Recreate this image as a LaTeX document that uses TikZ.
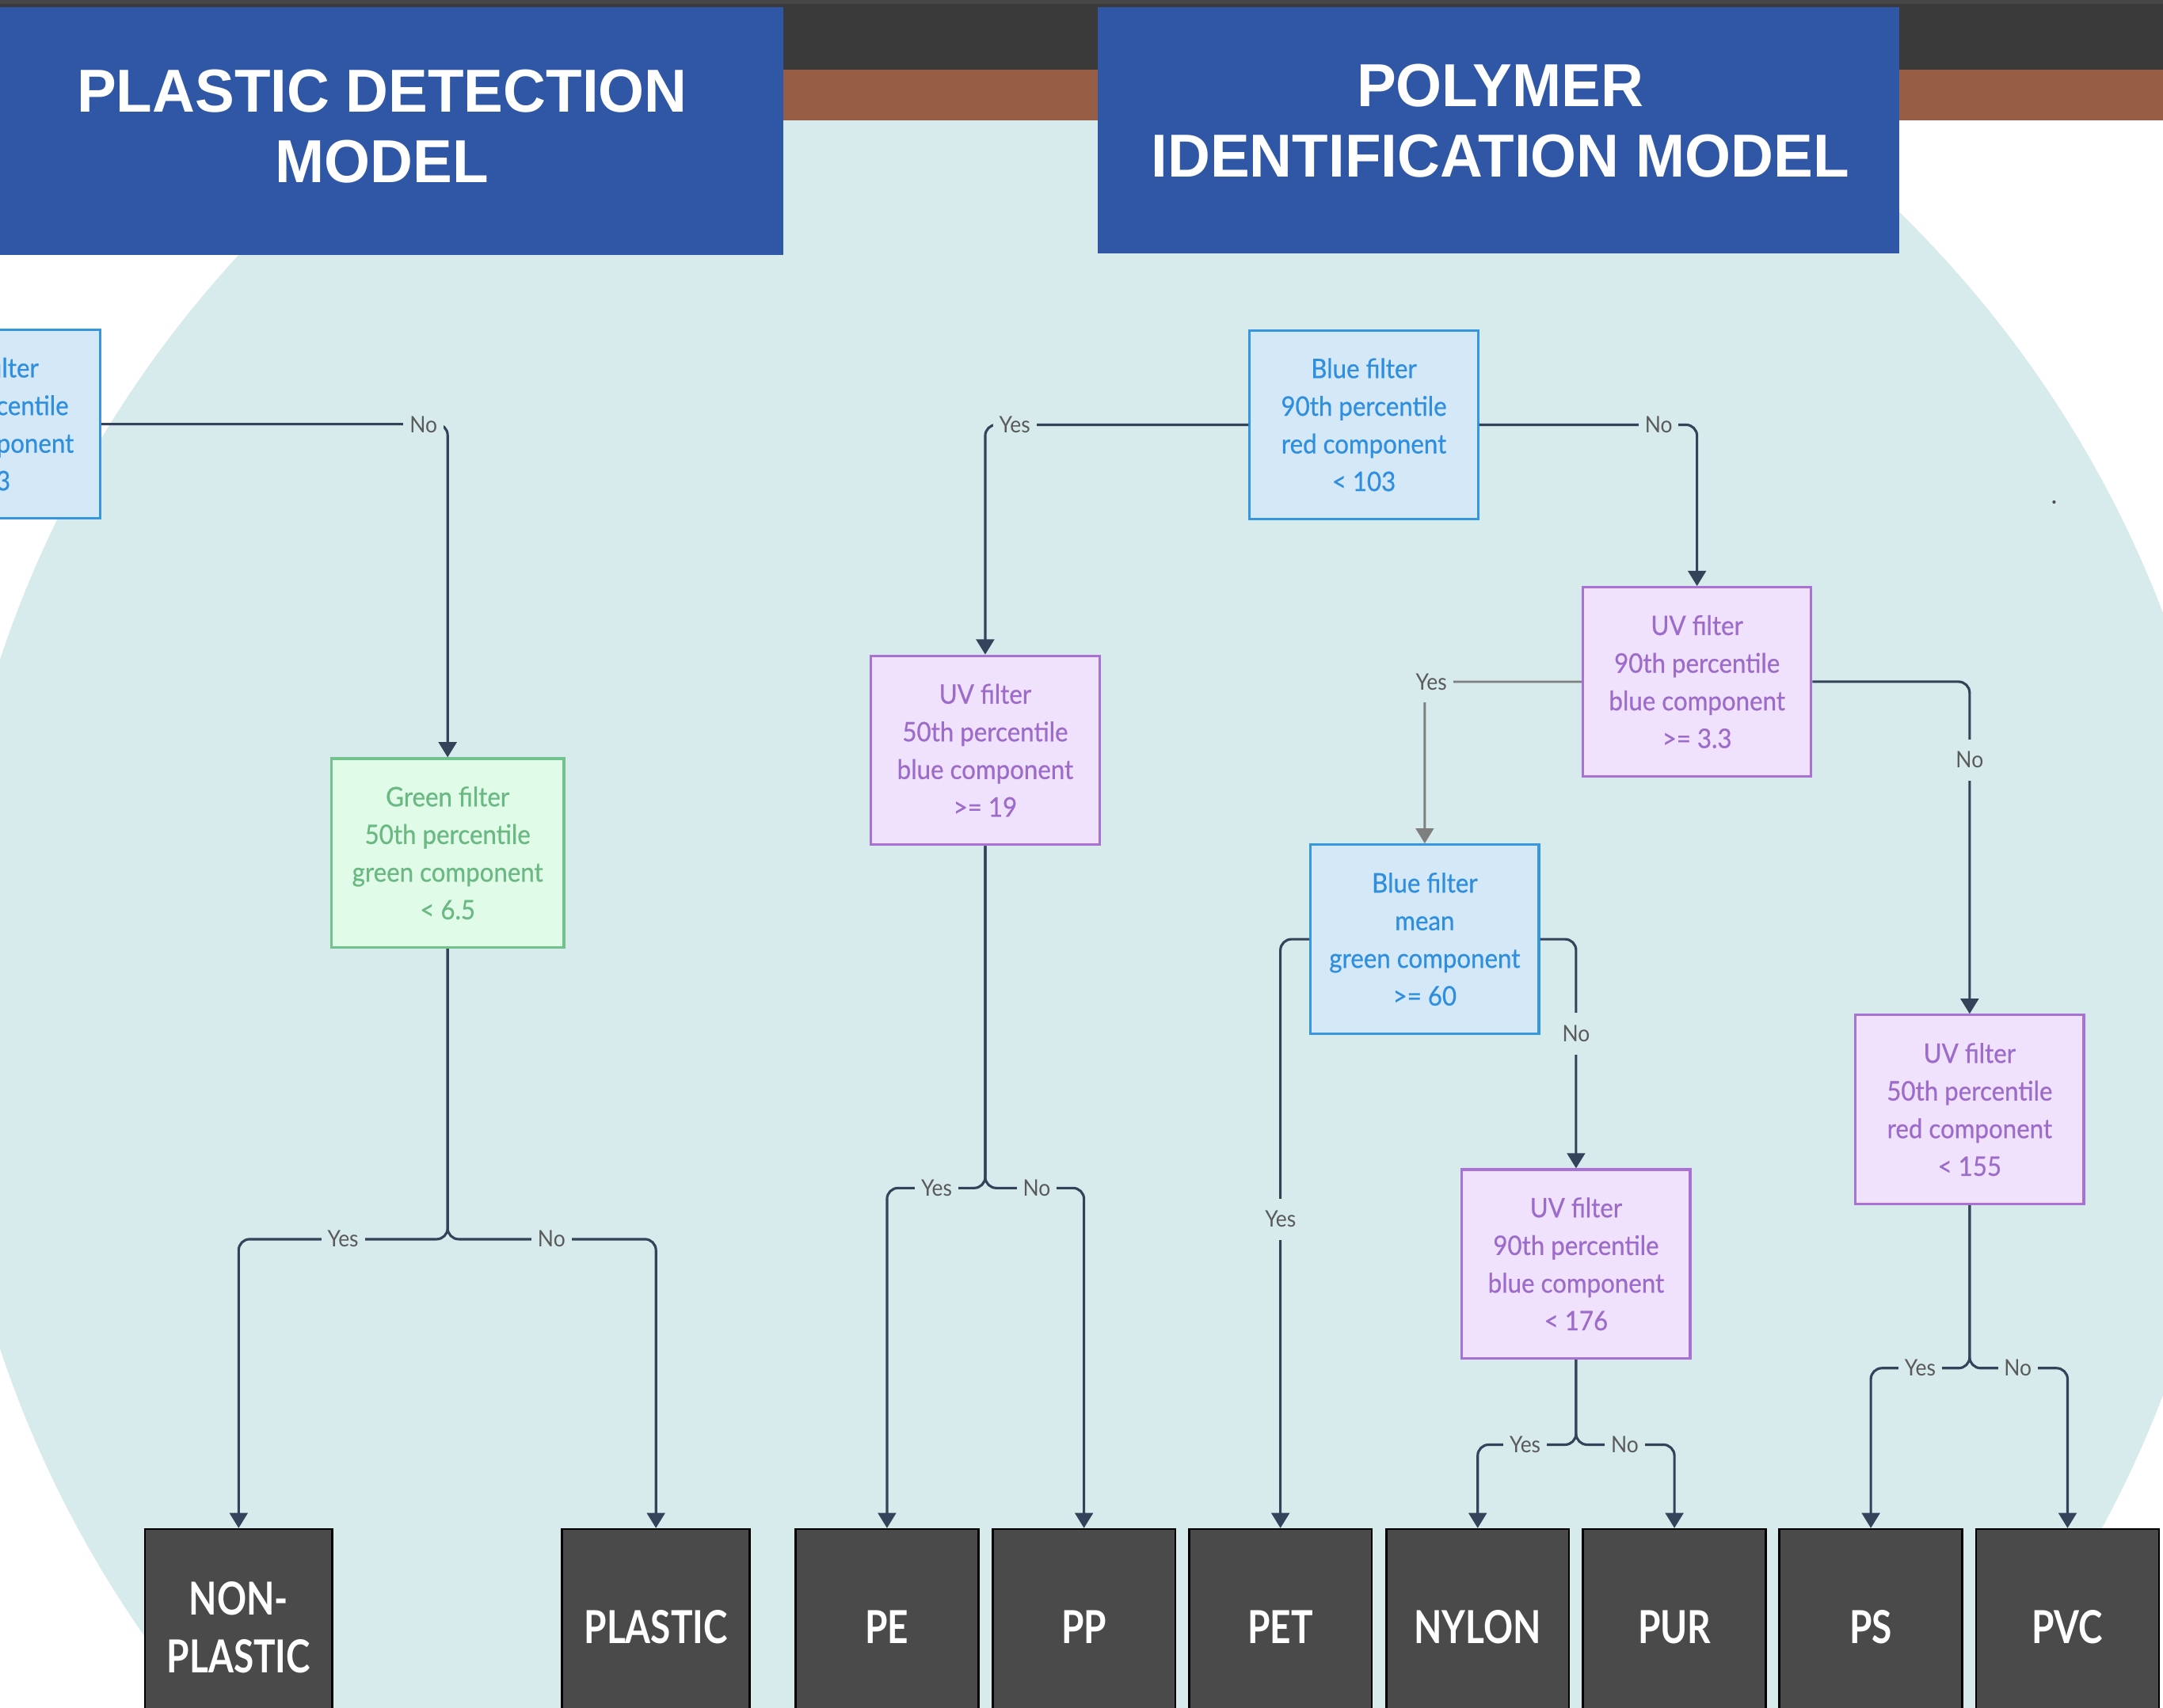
\documentclass[tikz,border=0pt]{standalone}
\usepackage{fontspec}
\setmainfont{Lato}
\newfontfamily\boxfont{Lato}[FakeStretch=0.92, FakeBold=0.6]
\newfontfamily\lblfont{Lato}[FakeStretch=0.92]
\newfontfamily\leaffont{Lato}[FakeStretch=0.80]
\newfontfamily\titlefont{Liberation Sans}[FakeStretch=0.973]
\usetikzlibrary{arrows.meta}
\definecolor{bgc}{HTML}{D7EAEC}
\definecolor{darkbar}{HTML}{3A3A3A}
\definecolor{topstrip}{HTML}{474747}
\definecolor{brown}{HTML}{985D45}
\definecolor{titleblue}{HTML}{3057A5}
\definecolor{bfill}{HTML}{D5E8F8}
\definecolor{bbord}{HTML}{3597E2}
\definecolor{btext}{HTML}{2F8FDF}
\definecolor{pfill}{HTML}{F0E2FC}
\definecolor{pbord}{HTML}{A871D3}
\definecolor{ptext}{HTML}{9D6CCB}
\definecolor{gfill}{HTML}{E0FBE7}
\definecolor{gbord}{HTML}{72C28E}
\definecolor{gtext}{HTML}{6AB882}
\definecolor{leafc}{HTML}{4A4A4A}
\definecolor{connc}{HTML}{34425A}
\definecolor{grayc}{HTML}{7F7F7F}
\definecolor{lblc}{HTML}{5A5A5A}
\begin{document}
\begin{tikzpicture}[x=1pt,y=-1pt,
  box/.style={rectangle, minimum width=165.5pt, minimum height=137pt, line width=1.8pt, align=center, inner sep=0pt, font=\boxfont\fontsize{19.5}{27.3}\selectfont},
  bluebox/.style={box, draw=bbord, fill=bfill, text=btext},
  uvbox/.style={box, draw=pbord, fill=pfill, text=ptext},
  greenbox/.style={box, draw=gbord, fill=gfill, text=gtext, minimum width=168.5pt},
  leaf/.style={rectangle, anchor=north, minimum width=132.5pt, minimum height=142pt, draw=black, line width=1.5pt, fill=leafc, text=white, align=center, inner sep=0pt, font=\leaffont\bfseries\fontsize{33}{42}\selectfont},
  titlebox/.style={fill=titleblue},
  titletext/.style={text=white, align=center, inner sep=0pt, font=\titlefont\bfseries\fontsize{44}{51}\selectfont},
  conn/.style={draw=connc, line width=1.8pt, rounded corners=8pt, -{Triangle[width=13pt,length=11pt]}},
  grayconn/.style={draw=grayc, line width=1.6pt, rounded corners=8pt, -{Triangle[width=13pt,length=11pt]}},
  lbl/.style={fill=bgc, text=lblc, inner xsep=4.5pt, inner ysep=0pt, text height=11.5pt, text depth=0pt, minimum height=30pt, font=\lblfont\fontsize{16.5}{16.5}\selectfont}
]
\useasboundingbox (0,0) rectangle (1568,1238);
\clip (0,0) rectangle (1568,1238);
% background
\fill[white] (0,0) rectangle (1568,1238);
\fill[bgc] (790,728) ellipse [x radius=830pt, y radius=812pt];
\fill[darkbar] (0,0) rectangle (1568,50.5);
\fill[topstrip] (0,0) rectangle (1568,3);
\fill[brown] (0,50.5) rectangle (1568,87);
\fill[titlebox] (0,5) rectangle (568,185);
\fill[titlebox] (796,5) rectangle (1377,184);
\node[titletext] (t1) at (277,91.5) {PLASTIC DETECTION\\MODEL};
\node[titletext] (t2) at (1087.5,87.5) {POLYMER\\IDENTIFICATION MODEL};
\fill[gray!60!black] (1489,364) circle [radius=1.2pt];

% decision nodes
\node[bluebox] (pb) at (-10.3,307.5) {Blue filter\\90th percentile\\blue component\\< 23};
\node[greenbox] (g) at (324.5,618.5) {Green filter\\50th percentile\\green component\\< 6.5};
\node[bluebox] (bt) at (988.7,308) {Blue filter\\90th percentile\\red component\\< 103};
\node[uvbox] (uv1) at (714.2,544) {UV filter\\50th percentile\\blue component\\>= 19};
\node[uvbox] (uv2) at (1230.2,494.3) {UV filter\\90th percentile\\blue component\\>= 3.3};
\node[bluebox] (bm) at (1032.8,681) {Blue filter\\mean\\green component\\>= 60};
\node[uvbox] (uv3) at (1142.5,916.5) {UV filter\\90th percentile\\blue component\\< 176};
\node[uvbox] (uv4) at (1427.8,804.5) {UV filter\\50th percentile\\red component\\< 155};

% leaves
\node[leaf, minimum width=136pt] (nonpl) at (173,1108) {NON-\\PLASTIC};
\node[leaf, minimum width=136pt] (pl) at (475.5,1108) {PLASTIC};
\node[leaf] (pe) at (643,1108) {PE};
\node[leaf] (pp) at (785.8,1108) {PP};
\node[leaf] (pet) at (928.2,1108) {PET};
\node[leaf] (nylon) at (1071.2,1108) {NYLON};
\node[leaf] (pur) at (1213.8,1108) {PUR};
\node[leaf] (ps) at (1356.2,1108) {PS};
\node[leaf] (pvc) at (1498.8,1108) {PVC};

% split coordinates
\coordinate (gsp) at (324.5,898.5);
\coordinate (u1sp) at (714.2,861.4);
\coordinate (u3sp) at (1142.5,1047.5);
\coordinate (u4sp) at (1427.8,992);

% connectors
\draw[conn] (pb.east) -| (g.north);
\draw[conn] (g.south) -- (gsp) -| (nonpl.north);
\draw[conn] (g.south) -- (gsp) -| (pl.north);
\draw[conn] (bt.west) -| (uv1.north);
\draw[conn] (bt.east) -| (uv2.north);
\draw[conn] (uv1.south) -- (u1sp) -| (pe.north);
\draw[conn] (uv1.south) -- (u1sp) -| (pp.north);
\draw[grayconn] (uv2.west) -| (bm.north);
\draw[conn] (uv2.east) -| (uv4.north);
\draw[conn] (bm.west) -| (pet.north);
\draw[conn] (bm.east) -| (uv3.north);
\draw[conn] (uv3.south) -- (u3sp) -| (nylon.north);
\draw[conn] (uv3.south) -- (u3sp) -| (pur.north);
\draw[conn] (uv4.south) -- (u4sp) -| (ps.north);
\draw[conn] (uv4.south) -- (u4sp) -| (pvc.north);

% labels
\node[lbl] (lno1) at (307,308) {No};
\node[lbl] (lyes1) at (248.7,898.5) {Yes};
\node[lbl] (lno2) at (399.8,898.5) {No};
\node[lbl] (lyes2) at (735.6,308) {Yes};
\node[lbl] (lno3) at (1202.4,308) {No};
\node[lbl] (lyes3) at (679,861.4) {Yes};
\node[lbl] (lno4) at (751.5,861.4) {No};
\node[lbl] (lyes4) at (1037.6,494.5) {Yes};
\node[lbl] (lno5) at (1427.8,551) {No};
\node[lbl] (lyes5) at (928.3,884) {Yes};
\node[lbl] (lno6) at (1142.5,749.6) {No};
\node[lbl] (lyes6) at (1105.6,1047.5) {Yes};
\node[lbl] (lno7) at (1177.8,1047.5) {No};
\node[lbl] (lyes7) at (1392,992) {Yes};
\node[lbl] (lno8) at (1462.8,992) {No};
\end{tikzpicture}
\end{document}
